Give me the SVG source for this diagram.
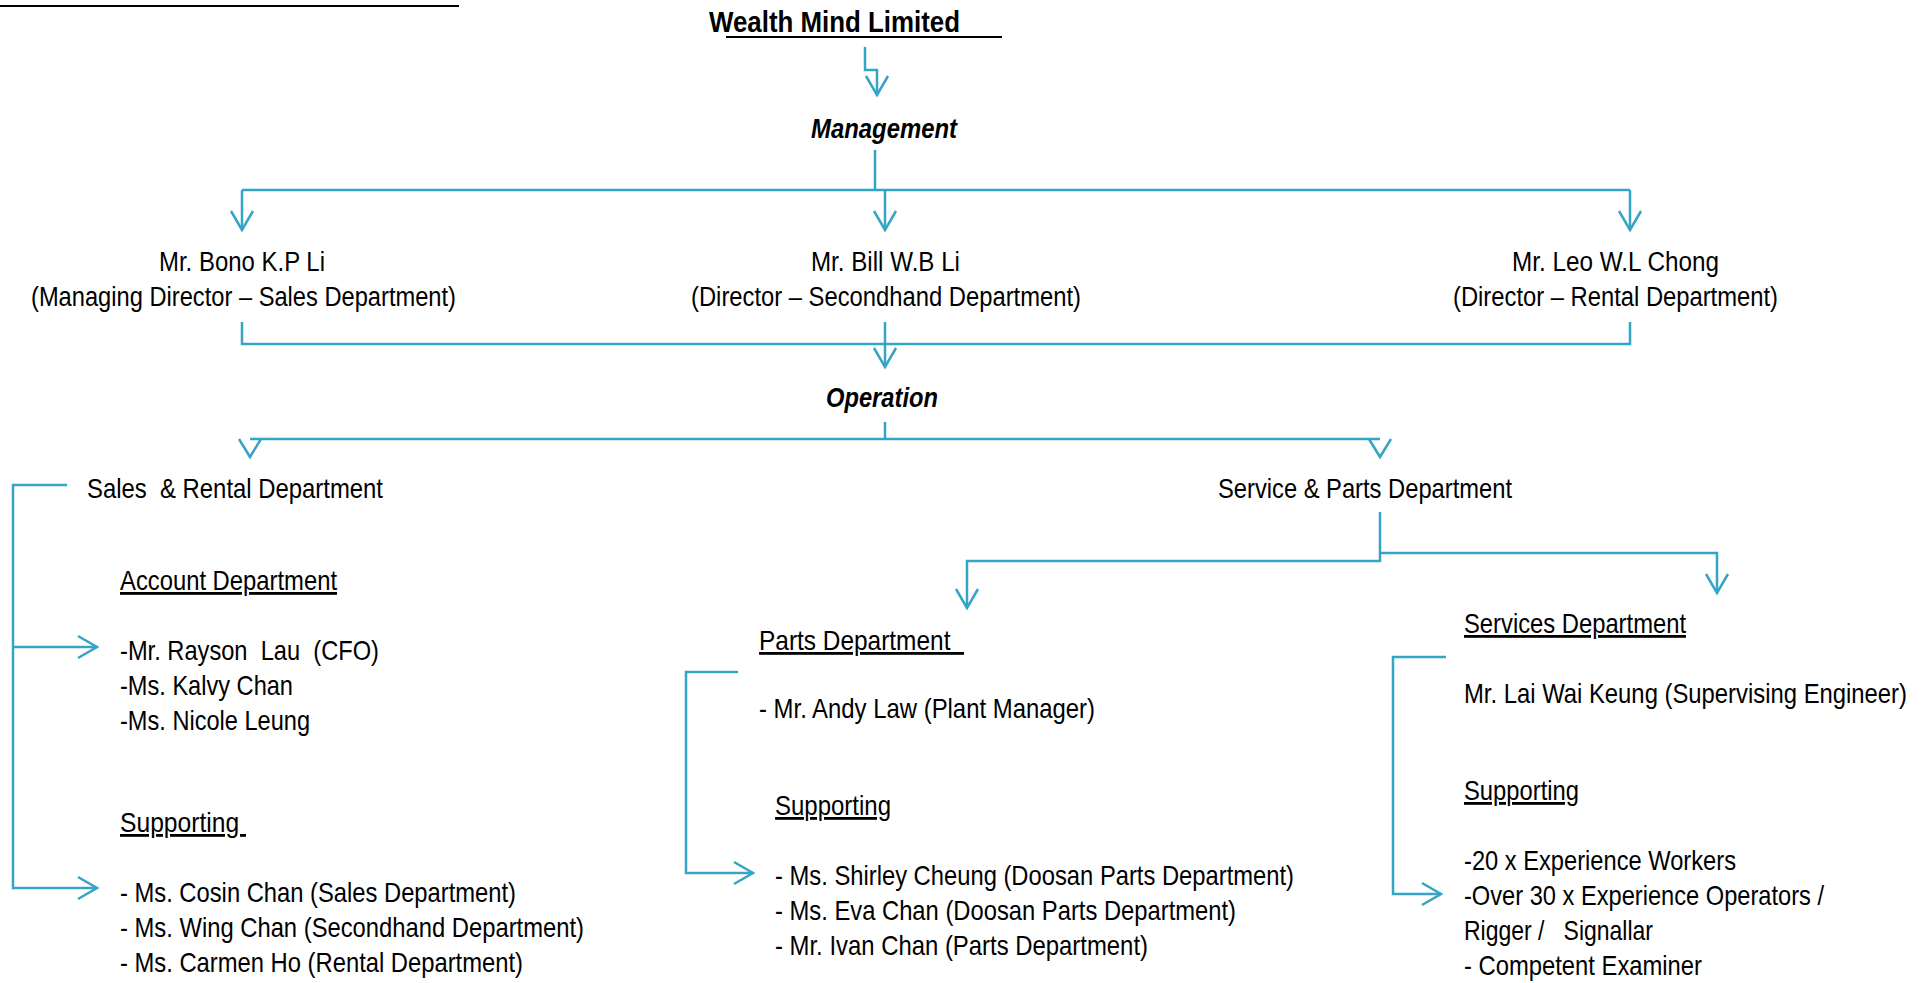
<svg xmlns="http://www.w3.org/2000/svg" width="1928" height="983" viewBox="0 0 1928 983">
<style>
.t{font-family:"Liberation Sans Narrow","Arial Narrow","Liberation Sans",Arial,sans-serif;font-size:28px;fill:#000;}
.d{font-size:27px;}
.b{font-weight:bold;font-size:30px;}
.bi{font-weight:bold;font-style:italic;font-size:27px;}
.u{text-decoration:underline;}
.c{fill:none;stroke:#36A4C4;stroke-width:2.5;}
.k{fill:none;stroke:#000;stroke-width:2;}
</style>
<defs>
<marker id="ah" markerUnits="userSpaceOnUse" markerWidth="30" markerHeight="30" refX="0" refY="0" orient="auto" overflow="visible">
<path d="M-19,-11 L0,0 L-19,11" fill="none" stroke="#36A4C4" stroke-width="2.5"/>
</marker>
</defs>
<rect width="1928" height="983" fill="#fff"/>
<line class="k" x1="0" y1="6" x2="459" y2="6"/>

<g id="company">
<text class="t b" x="709" y="32" textLength="251" lengthAdjust="spacingAndGlyphs">Wealth Mind Limited</text>
<line class="k" x1="726" y1="37" x2="1002" y2="37"/>
</g>
<g id="management"><text class="t bi" x="811" y="138" textLength="146" lengthAdjust="spacingAndGlyphs">Management</text></g>
<g id="bono">
<text class="t d" x="159" y="271" textLength="166" lengthAdjust="spacingAndGlyphs">Mr. Bono K.P Li</text>
<text class="t d" x="31" y="306" textLength="425" lengthAdjust="spacingAndGlyphs">(Managing Director – Sales Department)</text>
</g>
<g id="bill">
<text class="t d" x="811" y="271" textLength="149" lengthAdjust="spacingAndGlyphs">Mr. Bill W.B Li</text>
<text class="t d" x="691" y="306" textLength="390" lengthAdjust="spacingAndGlyphs">(Director – Secondhand Department)</text>
</g>
<g id="leo">
<text class="t d" x="1512" y="271" textLength="207" lengthAdjust="spacingAndGlyphs">Mr. Leo W.L Chong</text>
<text class="t d" x="1453" y="306" textLength="325" lengthAdjust="spacingAndGlyphs">(Director – Rental Department)</text>
</g>
<g id="operation"><text class="t bi" x="826" y="407" textLength="112" lengthAdjust="spacingAndGlyphs">Operation</text></g>
<g id="sales-rental"><text class="t" x="87" y="498" xml:space="preserve" textLength="296" lengthAdjust="spacingAndGlyphs">Sales  &amp; Rental Department</text></g>
<g id="service-parts"><text class="t" x="1218" y="498" textLength="294" lengthAdjust="spacingAndGlyphs">Service &amp; Parts Department</text></g>

<g id="account">
<text class="t u" x="120" y="590" textLength="217" lengthAdjust="spacingAndGlyphs">Account Department</text>
<text class="t" x="120" y="660" xml:space="preserve" textLength="259" lengthAdjust="spacingAndGlyphs">-Mr. Rayson  Lau  (CFO)</text>
<text class="t" x="120" y="695" textLength="173" lengthAdjust="spacingAndGlyphs">-Ms. Kalvy Chan</text>
<text class="t" x="120" y="730" textLength="190" lengthAdjust="spacingAndGlyphs">-Ms. Nicole Leung</text>
</g>
<g id="sales-supporting">
<text class="t u" x="120" y="832" xml:space="preserve" textLength="126" lengthAdjust="spacingAndGlyphs">Supporting </text>
<text class="t" x="120" y="902" textLength="396" lengthAdjust="spacingAndGlyphs">- Ms. Cosin Chan (Sales Department)</text>
<text class="t" x="120" y="937" textLength="464" lengthAdjust="spacingAndGlyphs">- Ms. Wing Chan (Secondhand Department)</text>
<text class="t" x="120" y="972" textLength="403" lengthAdjust="spacingAndGlyphs">- Ms. Carmen Ho (Rental Department)</text>
</g>

<g id="parts">
<text class="t u" x="759" y="650" xml:space="preserve" textLength="205" lengthAdjust="spacingAndGlyphs">Parts Department  </text>
<text class="t" x="759" y="718" textLength="336" lengthAdjust="spacingAndGlyphs">- Mr. Andy Law (Plant Manager)</text>
</g>
<g id="parts-supporting">
<text class="t u" x="775" y="815" textLength="116" lengthAdjust="spacingAndGlyphs">Supporting</text>
<text class="t" x="775" y="885" textLength="519" lengthAdjust="spacingAndGlyphs">- Ms. Shirley Cheung (Doosan Parts Department)</text>
<text class="t" x="775" y="920" textLength="461" lengthAdjust="spacingAndGlyphs">- Ms. Eva Chan (Doosan Parts Department)</text>
<text class="t" x="775" y="955" textLength="373" lengthAdjust="spacingAndGlyphs">- Mr. Ivan Chan (Parts Department)</text>
</g>

<g id="services">
<text class="t u" x="1464" y="633" textLength="222" lengthAdjust="spacingAndGlyphs">Services Department</text>
<text class="t" x="1464" y="703" textLength="443" lengthAdjust="spacingAndGlyphs">Mr. Lai Wai Keung (Supervising Engineer)</text>
</g>
<g id="services-supporting">
<text class="t u" x="1464" y="800" textLength="115" lengthAdjust="spacingAndGlyphs">Supporting</text>
<text class="t" x="1464" y="870" textLength="272" lengthAdjust="spacingAndGlyphs">-20 x Experience Workers</text>
<text class="t" x="1464" y="905" textLength="360" lengthAdjust="spacingAndGlyphs">-Over 30 x Experience Operators /</text>
<text class="t" x="1464" y="940" xml:space="preserve" textLength="189" lengthAdjust="spacingAndGlyphs">Rigger /   Signallar</text>
<text class="t" x="1464" y="975" textLength="238" lengthAdjust="spacingAndGlyphs">- Competent Examiner</text>
</g>

<g id="connectors">
<path class="c" d="M865,47 V70 H877 V95" marker-end="url(#ah)"/>
<path class="c" d="M875,150 V190"/>
<path class="c" d="M242,190 H1630"/>
<path class="c" d="M242,190 V230" marker-end="url(#ah)"/>
<path class="c" d="M885,190 V230" marker-end="url(#ah)"/>
<path class="c" d="M1630,190 V230" marker-end="url(#ah)"/>
<path class="c" d="M242,322 V344 H1630 V322"/>
<path class="c" d="M885,322 V367" marker-end="url(#ah)"/>
<path class="c" d="M885,422 V439"/>
<path class="c" d="M250,439 H1380"/>
<path class="c" d="M239,439 L250,457 L261,439"/>
<path class="c" d="M1369,439 L1380,457 L1391,439"/>
<path class="c" d="M67,485 H13 V888 H97" marker-end="url(#ah)"/>
<path class="c" d="M13,647 H97" marker-end="url(#ah)"/>
<path class="c" d="M1380,512 V561 H967 V608" marker-end="url(#ah)"/>
<path class="c" d="M1380,553 H1717 V593" marker-end="url(#ah)"/>
<path class="c" d="M738,672 H686 V873 H753" marker-end="url(#ah)"/>
<path class="c" d="M1446,657 H1393 V894 H1441" marker-end="url(#ah)"/>
</g>
</svg>
